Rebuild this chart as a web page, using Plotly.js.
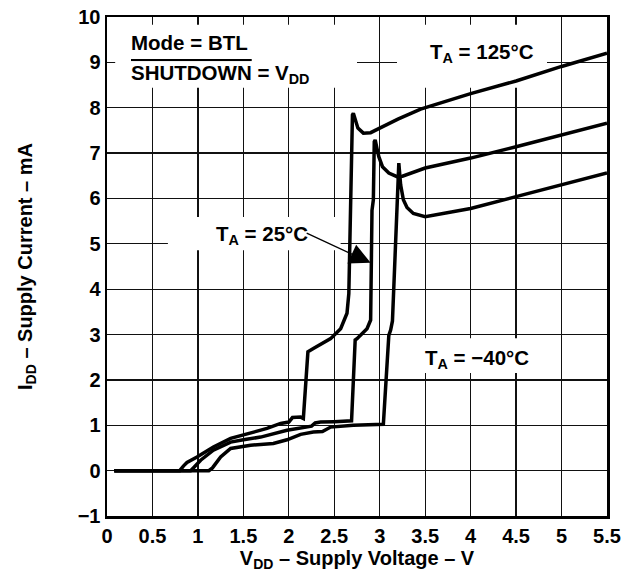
<!DOCTYPE html>
<html>
<head>
<meta charset="utf-8">
<script src="https://cdn.plot.ly/plotly-3.0.1.min.js"></script>
<style>html,body{margin:0;padding:0;background:#fff;}#chart{width:632px;height:582px;}</style>
</head>
<body>
<div id="chart"></div>
<script>
// Supply voltage (V) and supply current (mA)
const volt125 = [0.08, 0.80, 0.84, 0.88, 0.99, 1.17, 1.36, 1.50, 1.76, 1.91, 2.00, 2.04, 2.13, 2.16, 2.21, 2.27, 2.46, 2.57, 2.64, 2.66, 2.68, 2.70, 2.71, 2.73, 2.76, 2.82, 2.90, 3.00, 3.20, 3.45, 4.00, 4.50, 5.00, 5.50];
const curr125 = [0.00, 0.00, 0.10, 0.18, 0.30, 0.52, 0.71, 0.78, 0.93, 1.04, 1.07, 1.17, 1.18, 1.15, 2.62, 2.69, 2.91, 3.13, 3.47, 3.90, 5.97, 7.84, 7.88, 7.75, 7.55, 7.44, 7.45, 7.55, 7.75, 7.97, 8.31, 8.59, 8.91, 9.20];

const volt25 = [0.08, 0.92, 0.96, 1.03, 1.17, 1.36, 1.50, 1.69, 1.98, 2.16, 2.25, 2.29, 2.35, 2.50, 2.69, 2.73, 2.75, 2.86, 2.90, 2.915, 2.93, 2.94, 2.95, 2.97, 2.99, 3.03, 3.10, 3.19, 3.25, 3.50, 4.00, 4.50, 5.00, 5.50];
const curr25 = [0.00, 0.00, 0.08, 0.23, 0.45, 0.63, 0.68, 0.74, 0.89, 0.95, 0.98, 1.05, 1.07, 1.08, 1.10, 2.88, 2.91, 3.13, 3.32, 5.74, 5.97, 7.25, 7.29, 7.10, 6.92, 6.70, 6.56, 6.48, 6.49, 6.67, 6.89, 7.14, 7.40, 7.66];

const voltM40 = [0.08, 1.12, 1.16, 1.25, 1.36, 1.47, 1.58, 1.83, 1.98, 2.13, 2.27, 2.37, 2.46, 2.71, 3.04, 3.10, 3.12, 3.14, 3.18, 3.20, 3.21, 3.23, 3.26, 3.30, 3.37, 3.50, 4.00, 4.50, 5.00, 5.50];
const currM40 = [0.00, 0.00, 0.06, 0.30, 0.49, 0.52, 0.56, 0.60, 0.68, 0.80, 0.85, 0.86, 0.96, 1.00, 1.02, 2.98, 3.10, 3.30, 5.50, 6.60, 6.78, 6.30, 5.97, 5.80, 5.67, 5.60, 5.78, 6.04, 6.30, 6.56];

const xTickVals = [0, 0.5, 1, 1.5, 2, 2.5, 3, 3.5, 4, 4.5, 5, 5.5];
const xTickText = ['0', '0.5', '1', '1.5', '2', '2.5', '3', '3.5', '4', '4.5', '5', '5.5'];
const yTickVals = [-1, 0, 1, 2, 3, 4, 5, 6, 7, 8, 9, 10];
const yTickText = ['\u22121', '0', '1', '2', '3', '4', '5', '6', '7', '8', '9', '10'];

const FONT = 'Liberation Sans, Arial, Helvetica, sans-serif';
const lineStyle = {color: '#000', width: 3.5};

const traces = [
  {x: volt125, y: curr125, mode: 'lines', line: lineStyle, name: '125', hoverinfo: 'skip'},
  {x: volt25, y: curr25, mode: 'lines', line: lineStyle, name: '25', hoverinfo: 'skip'},
  {x: voltM40, y: currM40, mode: 'lines', line: lineStyle, name: '-40', hoverinfo: 'skip'}
];

const txtFont = {family: FONT, size: 20.5, color: '#000', weight: 'bold'};

function whiteBox(x0, x1, y0, y1) {
  return {type: 'rect', xref: 'x', yref: 'y', x0: x0, x1: x1, y0: y0, y1: y1,
    fillcolor: '#fff', line: {width: 0}, layer: 'between'};
}

const layout = {
  width: 632, height: 582,
  margin: {l: 107, r: 25, t: 17, b: 66},
  paper_bgcolor: '#fff', plot_bgcolor: '#fff',
  showlegend: false,
  font: {family: FONT, color: '#000'},
  xaxis: {
    range: [0, 5.5], tickvals: xTickVals, ticktext: xTickText,
    showgrid: true, gridcolor: '#111', gridwidth: 1.2, zeroline: false,
    showline: true, linecolor: '#000', linewidth: 2.5, mirror: true, ticks: '',
    tickfont: {family: FONT, size: 20, color: '#000', weight: 'bold'},
    title: {text: 'V<sub>DD</sub> \u2013 Supply Voltage \u2013 V', standoff: 6,
      font: {family: FONT, size: 20, color: '#000', weight: 'bold'}}
  },
  yaxis: {
    range: [-1, 10], tickvals: yTickVals, ticktext: yTickText,
    showgrid: true, gridcolor: '#111', gridwidth: 1.2, zeroline: false,
    showline: true, linecolor: '#000', linewidth: 2.5, mirror: true, ticks: '',
    tickfont: {family: FONT, size: 20, color: '#000', weight: 'bold'},
    title: {text: 'I<sub>DD</sub> \u2013 Supply Current \u2013 mA', standoff: 40,
      font: {family: FONT, size: 20, color: '#000', weight: 'bold'}}
  },
  shapes: [
    whiteBox(0.09, 2.75, 8.44, 9.83),
    whiteBox(3.19, 4.84, 8.44, 9.83),
    whiteBox(0.67, 2.57, 4.86, 5.59),
    whiteBox(3.39, 4.71, 2.15, 2.92)
  ],
  annotations: [
    {x: 0.245, y: 9.43, xref: 'x', yref: 'y', xanchor: 'left', yanchor: 'middle', showarrow: false,
      text: 'Mode = BTL', font: txtFont},
    {x: 0.245, y: 8.74, xref: 'x', yref: 'y', xanchor: 'left', yanchor: 'middle', showarrow: false,
      text: '<span style="text-decoration:overline">SHUTDOWN</span> = V<sub>DD</sub>', font: txtFont},
    {x: 4.12, y: 9.2, xref: 'x', yref: 'y', xanchor: 'center', yanchor: 'middle', showarrow: false,
      text: 'T<sub>A</sub> = 125\u00B0C', font: txtFont},
    {x: 1.71, y: 5.2, xref: 'x', yref: 'y', xanchor: 'center', yanchor: 'middle', showarrow: false,
      text: 'T<sub>A</sub> = 25\u00B0C', font: txtFont},
    {x: 4.07, y: 2.46, xref: 'x', yref: 'y', xanchor: 'center', yanchor: 'middle', showarrow: false,
      text: 'T<sub>A</sub> = \u221240\u00B0C', font: txtFont},
    {x: 2.90, y: 4.58, xref: 'x', yref: 'y', axref: 'x', ayref: 'y', ax: 2.18, ay: 5.25,
      text: '', showarrow: true, arrowhead: 2, arrowsize: 3.2, arrowwidth: 1.3, arrowcolor: '#000', standoff: 0}
  ]
};

Plotly.newPlot('chart', traces, layout, {staticPlot: true, displayModeBar: false});
</script>
</body>
</html>
